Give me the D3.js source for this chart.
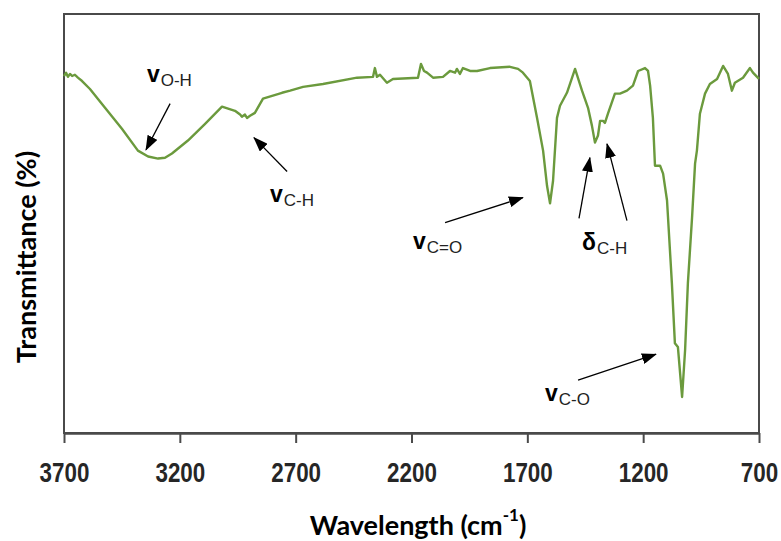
<!DOCTYPE html>
<html>
<head>
<meta charset="utf-8">
<script src="https://cdn.jsdelivr.net/npm/d3@7"></script>
<style>
  body { margin: 0; background: #fff; }
  .tick text { font-family: "Liberation Sans", Arial, sans-serif; font-weight: 700; font-size: 28px; fill: #262626; }
  .axis-title { font-family: Lato, "Open Sans", sans-serif; font-weight: 700; font-size: 27px; fill: #000; }
  .ann { font-family: "Liberation Sans", Arial, sans-serif; fill: #000; }
  .ann .sym { font-weight: 700; font-size: 23px; }
  .ann .sub { font-weight: 400; font-size: 17px; fill: #222; }
</style>
</head>
<body>
<div id="chart"></div>
<script>
// FTIR spectrum
const wavenumber = [
  3700, 3691, 3683, 3674, 3665, 3653, 3640, 3622, 3588, 3523, 3450, 3381, 3337, 3294, 3264, 3234,
  3165, 3091, 3018, 2962, 2940, 2932, 2919, 2910, 2897, 2876, 2841, 2759, 2724, 2668, 2582, 2435,
  2366, 2358, 2349, 2336, 2306, 2280, 2172, 2159, 2146, 2133, 2107, 2064, 2034, 2012, 2004, 1991,
  1978, 1947, 1917, 1861, 1775, 1740, 1719, 1689, 1658, 1632, 1615, 1602, 1589, 1572, 1559, 1529,
  1494, 1464, 1438, 1421, 1408, 1395, 1386, 1373, 1365, 1352, 1322, 1300, 1270, 1244, 1222, 1192,
  1179, 1170, 1158, 1149, 1127, 1114, 1097, 1076, 1063, 1050, 1032, 1019, 1007, 989, 976, 968,
  955, 933, 912, 881, 855, 834, 817, 804, 769, 739, 726, 700
]
const transmittance = [
  85.2, 86.0, 85.0, 85.7, 85.2, 85.5, 84.8, 84.0, 82.1, 77.6, 72.6, 67.4, 66.0, 65.5, 65.7, 66.7,
  69.8, 73.8, 77.9, 76.9, 76.0, 75.5, 76.0, 75.2, 75.7, 76.4, 79.8, 81.2, 81.7, 82.6, 83.3, 84.8,
  85.0, 87.1, 85.0, 85.5, 83.6, 84.5, 84.8, 88.1, 86.4, 86.0, 84.8, 85.0, 86.4, 86.0, 86.9, 85.7,
  87.1, 86.4, 86.4, 87.1, 87.4, 86.9, 86.0, 84.0, 75.2, 67.4, 59.0, 54.8, 60.2, 75.2, 78.1, 81.2,
  86.9, 81.7, 77.6, 73.3, 69.3, 71.0, 74.5, 74.5, 74.0, 76.2, 81.0, 81.0, 81.7, 82.9, 86.4, 87.1,
  86.4, 82.9, 75.2, 63.8, 63.8, 61.9, 55.5, 35.7, 21.4, 20.5, 8.6, 19.8, 35.7, 51.4, 64.3, 67.4,
  76.2, 81.0, 83.3, 84.5, 87.6, 85.7, 81.7, 83.6, 84.8, 87.1, 86.0, 84.5
]
const tickValues = [3700, 3200, 2700, 2200, 1700, 1200, 700]
const bandSymbols = ['v', 'v', 'v', 'δ', 'v']
const bandGroups = ['O-H', 'C-H', 'C=O', 'C-H', 'C-O']

const spectrum = wavenumber.map((w, i) => ({ w, t: transmittance[i] }))

// dimension stuff
const width = 781
const height = 541
const marginTop = 14
const marginBottom = 108
const marginLeft = 64
const marginRight = 22
const lineColor = '#6b9a3d'
const frameColor = '#4a4a4a'

// scales
const scaleX = d3.scaleLinear().domain([3700, 700]).range([marginLeft, width - marginRight])
const scaleY = d3.scaleLinear().domain([0, 100]).range([height - marginBottom, marginTop])

// label anchor + arrows for each band, in data units (wavenumber, transmittance)
const bandLayout = [
  { at: [3342, 83.8], arrows: [[[3242, 78.6], [3346, 67.6]]] },
  { at: [2811, 55.2], arrows: [[[2737, 62.4], [2880, 70.5]]] },
  { at: [2194, 43.8], arrows: [[[2055, 50.2], [1719, 56.2]]] },
  { at: [1464, 43.6], arrows: [[[1477, 51.2], [1430, 65.7]], [[1270, 50.7], [1356, 69.0]]] },
  { at: [1624, 7.6], arrows: [[[1481, 12.6], [1145, 18.8]]] }
]

const $svg = d3.select('#chart').append('svg')
  .attr('width', width)
  .attr('height', height)

$svg.append('defs').append('marker')
  .attr('id', 'head')
  .attr('markerUnits', 'userSpaceOnUse')
  .attr('viewBox', '0 0 15 11')
  .attr('markerWidth', 15)
  .attr('markerHeight', 11)
  .attr('refX', 14)
  .attr('refY', 5.5)
  .attr('orient', 'auto')
  .append('path')
  .attr('d', 'M0,0 L15,5.5 L0,11 Z')
  .attr('fill', '#000')

// plot frame
$svg.append('rect')
  .attr('x', scaleX(3700))
  .attr('y', scaleY(100))
  .attr('width', scaleX(700) - scaleX(3700))
  .attr('height', scaleY(0) - scaleY(100))
  .attr('fill', 'none')
  .attr('stroke', frameColor)
  .attr('stroke-width', 2)

// x axis
const $axis = $svg.append('g')
  .attr('class', 'g-axis')
  .attr('transform', `translate(0, ${scaleY(0)})`)
  .call(d3.axisBottom(scaleX)
    .tickValues(tickValues)
    .tickSize(10)
    .tickSizeOuter(0)
    .tickPadding(19)
    .tickFormat(d => d))

$axis.select('.domain').attr('stroke', frameColor).attr('stroke-width', 2.5)
$axis.selectAll('.tick line').attr('stroke', frameColor).attr('stroke-width', 2)
// narrow the digits like the condensed face in the original
$axis.selectAll('.tick text').attr('transform', 'scale(0.8, 1)')

// spectrum line
const line = d3.line()
  .x(d => scaleX(d.w))
  .y(d => scaleY(d.t))

$svg.append('path')
  .datum(spectrum)
  .attr('d', line)
  .attr('fill', 'none')
  .attr('stroke', lineColor)
  .attr('stroke-width', 2.4)
  .attr('stroke-linejoin', 'round')

// band annotations
const $ann = $svg.append('g').attr('class', 'ann')

bandLayout.forEach((b, i) => {
  const label = $ann.append('text')
    .attr('x', scaleX(b.at[0]))
    .attr('y', scaleY(b.at[1]))
  label.append('tspan').attr('class', 'sym').text(bandSymbols[i])
  label.append('tspan').attr('class', 'sub').attr('dx', 1).attr('dy', 4).text(bandGroups[i])

  b.arrows.forEach(a => {
    $ann.append('line')
      .attr('x1', scaleX(a[0][0]))
      .attr('y1', scaleY(a[0][1]))
      .attr('x2', scaleX(a[1][0]))
      .attr('y2', scaleY(a[1][1]))
      .attr('stroke', '#000')
      .attr('stroke-width', 1.3)
      .attr('marker-end', 'url(#head)')
  })
})

// axis titles
$svg.append('text')
  .attr('class', 'axis-title')
  .attr('transform', `translate(36, 257) rotate(-90)`)
  .attr('text-anchor', 'middle')
  .text('Transmittance (%)')

const xTitle = $svg.append('text')
  .attr('class', 'axis-title')
  .attr('x', 418)
  .attr('y', 535)
  .attr('text-anchor', 'middle')
xTitle.append('tspan').text('Wavelength (cm')
xTitle.append('tspan').attr('dy', -14).style('font-size', '17px').text('-1')
xTitle.append('tspan').attr('dy', 14).text(')')
</script>
</body>
</html>
